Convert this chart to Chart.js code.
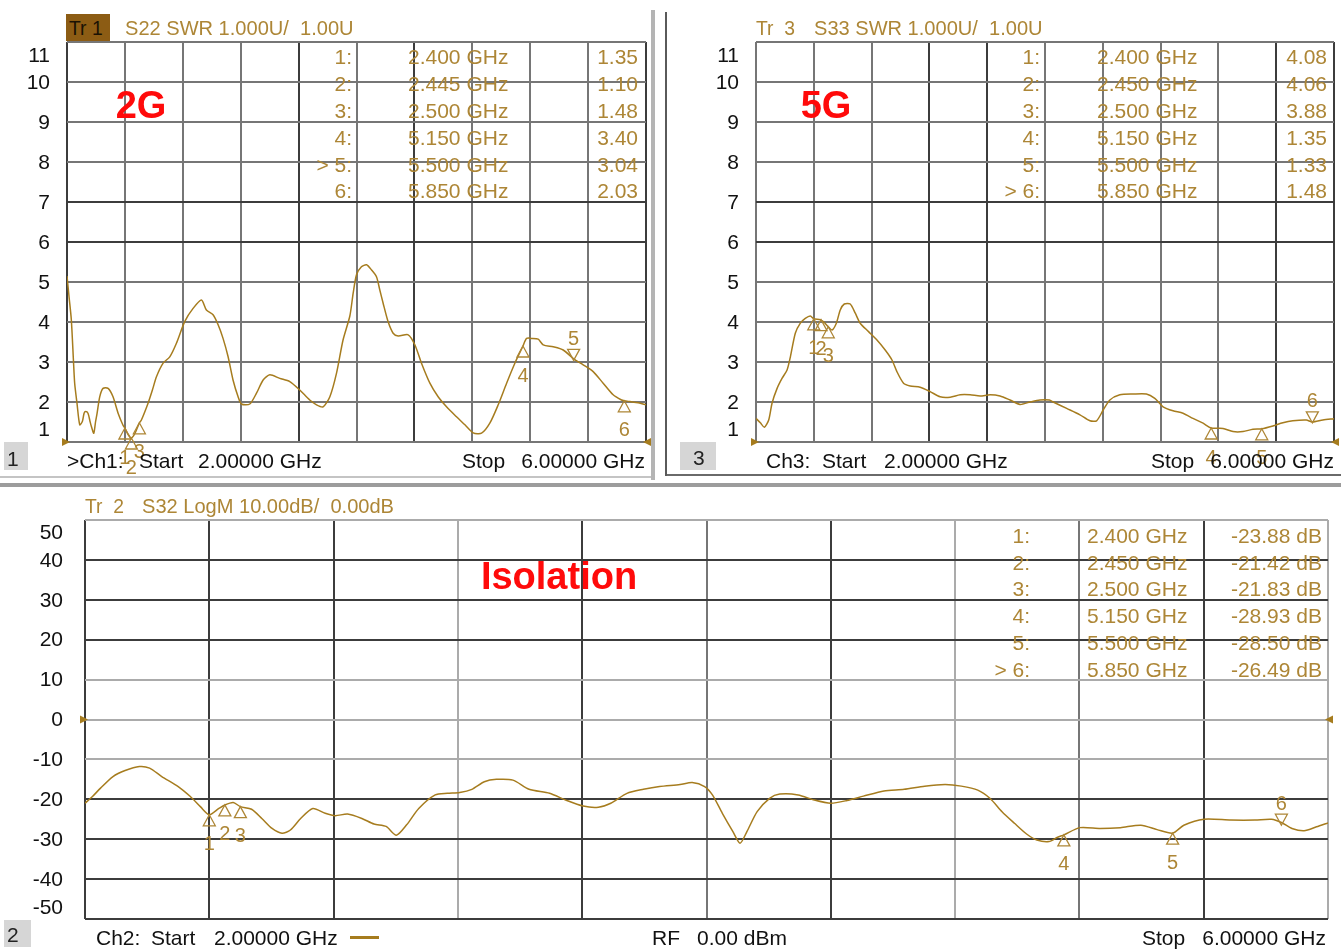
<!DOCTYPE html>
<html>
<head>
<meta charset="utf-8">
<title>VNA: S22 / S33 SWR and S32 isolation</title>
<script src="https://cdn.jsdelivr.net/npm/chart.js@4.4.1/dist/chart.umd.min.js"></script>
<style>
  html, body { margin: 0; padding: 0; background: #fff; }
  body { width: 1341px; height: 951px; position: relative; overflow: hidden;
         font-family: "Liberation Sans", Arial, sans-serif; }
  canvas { position: absolute; }
  .t { position: absolute; white-space: pre; }
  .bar { position: absolute; }
</style>
</head>
<body>
<canvas id="c1" width="660" height="480" style="left:0;top:0"></canvas>
<canvas id="c3" width="673" height="480" style="left:668px;top:0"></canvas>
<canvas id="c2" width="1341" height="461" style="left:0;top:490px"></canvas>

<script>
// ---- S22 SWR trace (GHz / SWR) ----
const s22Freq = [2.000, 2.015, 2.030, 2.045, 2.053, 2.069, 2.088, 2.106, 2.118, 2.129, 2.145, 2.160, 2.169, 2.185,
  2.197, 2.208, 2.226, 2.249, 2.284, 2.318, 2.353, 2.387, 2.400, 2.420, 2.445, 2.470, 2.500, 2.514, 2.560, 2.590,
  2.618, 2.664, 2.710, 2.756, 2.813, 2.871, 2.929, 2.963, 3.009, 3.044, 3.078, 3.113, 3.147, 3.182, 3.205, 3.263,
  3.309, 3.355, 3.401, 3.470, 3.539, 3.608, 3.677, 3.724, 3.769, 3.816, 3.862, 3.907, 3.954, 3.977, 4.000, 4.034,
  4.069, 4.104, 4.138, 4.161, 4.184, 4.218, 4.253, 4.288, 4.357, 4.403, 4.449, 4.507, 4.564, 4.622, 4.691, 4.749,
  4.806, 4.864, 4.921, 4.979, 5.037, 5.094, 5.150, 5.175, 5.209, 5.255, 5.290, 5.359, 5.428, 5.500, 5.566, 5.635,
  5.704, 5.773, 5.831, 5.850, 5.889, 5.946, 6.000];
const s22Swr = [5.15, 4.60, 4.05, 3.00, 2.47, 1.97, 1.43, 1.51, 1.72, 1.76, 1.72, 1.50, 1.38, 1.22,
  1.50, 1.72, 2.13, 2.34, 2.34, 2.13, 1.72, 1.42, 1.35, 1.20, 1.10, 1.22, 1.48, 1.55, 1.97, 2.30,
  2.63, 2.97, 3.13, 3.47, 4.01, 4.34, 4.55, 4.30, 4.18, 3.93, 3.59, 3.13, 2.55, 2.13, 1.95, 1.95,
  2.22, 2.55, 2.68, 2.59, 2.51, 2.30, 2.05, 1.93, 1.88, 2.13, 2.72, 3.55, 4.15, 4.72, 5.18, 5.38,
  5.43, 5.30, 5.13, 4.80, 4.47, 4.01, 3.72, 3.65, 3.68, 3.43, 2.97, 2.47, 2.13, 1.88, 1.63, 1.43,
  1.23, 1.22, 1.47, 1.93, 2.47, 2.97, 3.40, 3.59, 3.59, 3.57, 3.43, 3.38, 3.30, 3.08, 2.93, 2.76,
  2.47, 2.18, 2.05, 2.03, 2.01, 1.98, 1.93];
const s22MarkFreq = [2.400, 2.445, 2.500, 5.150, 5.500, 5.850];
const s22MarkSwr  = [1.35, 1.10, 1.48, 3.40, 3.04, 2.03];

// ---- S33 SWR trace ----
const s33Freq = [2.000, 2.030, 2.058, 2.088, 2.111, 2.146, 2.180, 2.215, 2.238, 2.272, 2.307, 2.341, 2.376, 2.400,
  2.445, 2.470, 2.500, 2.526, 2.556, 2.583, 2.611, 2.652, 2.687, 2.721, 2.779, 2.837, 2.894, 2.941, 2.975, 3.021,
  3.067, 3.136, 3.205, 3.274, 3.344, 3.413, 3.482, 3.551, 3.620, 3.689, 3.758, 3.827, 3.896, 3.965, 4.030, 4.057,
  4.150, 4.242, 4.311, 4.357, 4.403, 4.449, 4.518, 4.610, 4.702, 4.760, 4.817, 4.886, 4.955, 5.024, 5.094, 5.150,
  5.232, 5.301, 5.370, 5.439, 5.500, 5.577, 5.646, 5.715, 5.808, 5.850, 5.923, 6.000];
const s33Swr = [1.59, 1.48, 1.37, 1.55, 1.97, 2.34, 2.59, 2.80, 3.13, 3.72, 3.97, 4.09, 4.15, 4.08,
  4.06, 4.00, 3.88, 3.80, 3.97, 4.30, 4.45, 4.45, 4.22, 3.97, 3.76, 3.55, 3.30, 3.05, 2.76, 2.47,
  2.40, 2.37, 2.26, 2.13, 2.12, 2.18, 2.18, 2.15, 2.18, 2.15, 2.05, 1.94, 2.00, 2.05, 2.05, 2.00,
  1.84, 1.68, 1.53, 1.53, 1.80, 2.05, 2.18, 2.20, 2.20, 2.09, 1.88, 1.78, 1.72, 1.59, 1.47, 1.35,
  1.34, 1.26, 1.26, 1.32, 1.33, 1.40, 1.48, 1.53, 1.55, 1.50, 1.55, 1.58];
const s33MarkFreq = [2.400, 2.450, 2.500, 5.150, 5.500, 5.850];
const s33MarkSwr  = [4.08, 4.06, 3.88, 1.35, 1.33, 1.48];

// ---- S32 isolation trace (GHz / dB) ----
const s32Freq = [2.000, 2.024, 2.050, 2.090, 2.129, 2.175, 2.208, 2.247, 2.300, 2.339, 2.372, 2.400, 2.431, 2.450,
  2.477, 2.500, 2.536, 2.569, 2.602, 2.634, 2.661, 2.694, 2.733, 2.773, 2.805, 2.845, 2.891, 2.930, 2.969, 3.002,
  3.035, 3.074, 3.127, 3.166, 3.206, 3.245, 3.285, 3.324, 3.377, 3.429, 3.495, 3.547, 3.603, 3.652, 3.692, 3.744,
  3.797, 3.849, 3.915, 3.954, 3.994, 4.019, 4.051, 4.085, 4.108, 4.130, 4.163, 4.203, 4.236, 4.295, 4.347, 4.400,
  4.452, 4.505, 4.571, 4.636, 4.702, 4.768, 4.820, 4.873, 4.912, 4.951, 4.991, 5.030, 5.063, 5.102, 5.130, 5.150,
  5.201, 5.267, 5.332, 5.398, 5.450, 5.500, 5.536, 5.601, 5.687, 5.765, 5.818, 5.850, 5.884, 5.923, 5.963, 6.000];
const s32Db = [-21.0, -19.3, -17.2, -14.3, -12.8, -11.8, -12.2, -14.3, -16.8, -19.3, -21.9, -23.88, -22.3, -21.42,
  -20.8, -21.83, -22.5, -24.8, -27.3, -28.5, -27.7, -24.8, -22.3, -23.5, -24.1, -23.7, -24.8, -26.2, -26.8, -29.0,
  -26.4, -22.3, -18.9, -18.5, -18.3, -17.5, -15.6, -15.0, -15.2, -17.5, -18.5, -20.2, -21.7, -22.0, -21.0, -18.5,
  -17.5, -16.8, -16.3, -15.8, -16.8, -18.9, -23.5, -28.1, -31.0, -28.1, -23.1, -19.75, -18.7, -18.9, -20.2, -21.0,
  -20.3, -19.2, -17.9, -17.5, -16.7, -16.3, -16.7, -17.7, -19.75, -23.1, -26.0, -28.7, -30.2, -30.6, -29.5, -28.93,
  -27.1, -27.3, -27.1, -26.5, -27.6, -28.50, -26.5, -25.0, -25.2, -25.2, -25.0, -25.8, -27.3, -27.9, -26.9, -25.9];
const s32MarkFreq = [2.400, 2.450, 2.500, 5.150, 5.500, 5.850];
const s32MarkDb   = [-23.88, -21.42, -21.83, -28.93, -28.50, -26.49];

// ---- axis tick labels ----
const swrTicks = [1, 2, 3, 4, 5, 6, 7, 8, 9, 10, 11];
const dbTicks  = [-50, -40, -30, -20, -10, 0, 10, 20, 30, 40, 50];

const PAGE_W = 1341;
const GOLD = '#ad8636';
const TRACE = '#a67c1e';
const GRID = { d: '#3c3c3c', m: '#767676', l: '#ababab' };
const FONT = '"Liberation Sans", Arial, sans-serif';

// per-line grid shade for each panel (index order: left->right, bottom->top)
const shadeX1 = 'dmmmdmdmmmd', shadeY1 = 'mmmmmddmmmm';
const shadeX3 = 'mmmddmmmmdd', shadeY3 = 'mmmmmddmmmm';
const shadeX2 = 'dddldmdlmdl', shadeY2 = 'ddddllldddl';

function overlay(o) {
  return {
    id: 'overlay',
    afterDraw(chart) {
      const { ctx, chartArea: a } = chart;
      const xs = chart.scales.x, ys = chart.scales.y;
      ctx.save();
      // y tick labels
      ctx.font = '21px ' + FONT;
      ctx.fillStyle = '#111';
      ctx.textAlign = 'right';
      ctx.textBaseline = 'middle';
      o.ticks.forEach((v, i) => {
        let py = ys.getPixelForValue(v);
        if (i === 0) py -= o.edgeShift;
        if (i === o.ticks.length - 1) py += o.edgeShift;
        ctx.fillText(String(v), a.left - o.labelGap, py + 1);
      });
      // reference-level pointers on both edges
      const pr = ys.getPixelForValue(o.ref);
      ctx.fillStyle = TRACE;
      ctx.beginPath();
      ctx.moveTo(a.left + 3, pr); ctx.lineTo(a.left - 5, pr - 4); ctx.lineTo(a.left - 5, pr + 4);
      ctx.closePath(); ctx.fill();
      ctx.beginPath();
      ctx.moveTo(a.right - 3, pr); ctx.lineTo(a.right + 5, pr - 4); ctx.lineTo(a.right + 5, pr + 4);
      ctx.closePath(); ctx.fill();
      // markers
      ctx.strokeStyle = GOLD;
      ctx.lineWidth = 1.3;
      ctx.font = '20px ' + FONT;
      ctx.textAlign = 'center';
      o.mFreq.forEach((f, i) => {
        const px = xs.getPixelForValue(f), py = ys.getPixelForValue(o.mVal[i]);
        const up = i === o.active;       // active marker sits above the trace
        const dir = up ? -1 : 1;
        ctx.beginPath();
        ctx.moveTo(px, py);
        ctx.lineTo(px - 6, py + dir * 11);
        ctx.lineTo(px + 6, py + dir * 11);
        ctx.closePath();
        ctx.stroke();
        ctx.fillStyle = GOLD;
        ctx.fillText(String(i + 1), px, up ? py - 21 : py + 30);
      });
      ctx.restore();
    }
  };
}

function panel(id, o) {
  const shade = (s, i) => GRID[s[i]] || GRID.m;
  return new Chart(document.getElementById(id), {
    type: 'line',
    data: {
      datasets: [{
        data: o.freq.map((f, i) => ({ x: f, y: o.vals[i] })),
        borderColor: TRACE,
        borderWidth: 1.5,
        pointRadius: 0,
        tension: 0.25,
        fill: false
      }]
    },
    options: {
      responsive: false,
      animation: false,
      events: [],
      layout: { padding: o.pad },
      plugins: { legend: { display: false }, tooltip: { enabled: false } },
      scales: {
        x: {
          type: 'linear', min: 2, max: 6,
          ticks: { display: false, stepSize: 0.4 },
          grid: { drawTicks: false, lineWidth: 2, color: c => shade(o.shadeX, c.index) },
          border: { display: false }
        },
        y: {
          type: 'linear', min: o.ticks[0], max: o.ticks[o.ticks.length - 1],
          ticks: { display: false, stepSize: o.ticks[1] - o.ticks[0] },
          grid: { drawTicks: false, lineWidth: 2, color: c => shade(o.shadeY, c.index) },
          border: { display: false }
        }
      }
    },
    plugins: [overlay(o)]
  });
}

panel('c1', { freq: s22Freq, vals: s22Swr, ticks: swrTicks, ref: 1,
  mFreq: s22MarkFreq, mVal: s22MarkSwr, active: 4,
  pad: { left: 67, top: 42, right: 14, bottom: 38 }, labelGap: 17, edgeShift: 13,
  shadeX: shadeX1, shadeY: shadeY1 });
panel('c3', { freq: s33Freq, vals: s33Swr, ticks: swrTicks, ref: 1,
  mFreq: s33MarkFreq, mVal: s33MarkSwr, active: 5,
  pad: { left: 88, top: 42, right: 7, bottom: 38 }, labelGap: 17, edgeShift: 13,
  shadeX: shadeX3, shadeY: shadeY3 });
panel('c2', { freq: s32Freq, vals: s32Db, ticks: dbTicks, ref: 0,
  mFreq: s32MarkFreq, mVal: s32MarkDb, active: 5,
  pad: { left: 85, top: 30, right: 13, bottom: 32 }, labelGap: 22, edgeShift: 12,
  shadeX: shadeX2, shadeY: shadeY2 });

// ---- text ----
function put(txt, x, y, opt) {
  const o = opt || {};
  const size = o.size || 21;
  const d = document.createElement('div');
  d.className = 't';
  d.textContent = txt;
  d.style.fontSize = size + 'px';
  d.style.lineHeight = size + 'px';
  d.style.top = (y - size * 0.49) + 'px';
  d.style.color = o.color || GOLD;
  if (o.bold) d.style.fontWeight = 'bold';
  if (o.align === 'right') d.style.right = (PAGE_W - x) + 'px';
  else if (o.align === 'center') { d.style.left = x + 'px'; d.style.transform = 'translateX(-50%)'; }
  else d.style.left = x + 'px';
  if (o.sx) {
    d.style.transform = (d.style.transform || '') + ' scaleX(' + o.sx + ')';
    d.style.transformOrigin = o.align === 'right' ? 'right center' : 'left center';
  }
  document.body.appendChild(d);
  return d;
}
function box(x, y, w, h, bg) {
  const b = document.createElement('div');
  b.className = 'bar';
  Object.assign(b.style, { left: x + 'px', top: y + 'px', width: w + 'px', height: h + 'px', background: bg });
  document.body.appendChild(b);
}

// window frame lines
box(651, 10, 4, 470, '#b4b4b4');
box(665, 12, 2, 464, '#5a5a5a');
box(0, 476, 651, 2, '#c4c4c4');
box(667, 474, 674, 2, '#6a6a6a');
box(0, 483, 1341, 4, '#9c9c9c');

// headers
box(66, 14, 44, 27, '#8c5c14');
put('Tr 1', 69, 27.5, { color: '#1a1204', sx: 0.92 });
put('S22 SWR 1.000U/  1.00U', 125, 27.5, { sx: 0.955 });
put('Tr  3', 756, 27.5, { sx: 0.92 });
put('S33 SWR 1.000U/  1.00U', 814, 27.5, { sx: 0.955 });
put('Tr  2', 85, 505, { sx: 0.92 });
put('S32 LogM 10.00dB/  0.00dB', 142, 505, { sx: 0.955 });

// marker tables
function table(freqs, vals, active, unit, numRight, freqLeft, valRight, y0, dy) {
  freqs.forEach((f, i) => {
    const y = y0 + i * dy;
    put((i === active ? '> ' : '') + (i + 1) + ':', numRight, y, { align: 'right' });
    put(f.toFixed(3) + ' GHz', freqLeft, y);
    put(vals[i].toFixed(2) + unit, valRight, y, { align: 'right' });
  });
}
table(s22MarkFreq, s22MarkSwr, 4, '', 352, 408, 638, 56.7, 26.8);
table(s33MarkFreq, s33MarkSwr, 5, '', 1040, 1097, 1327, 56.7, 26.8);
table(s32MarkFreq, s32MarkDb, 5, ' dB', 1030, 1087, 1322, 535, 26.8);

// band labels
put('2G', 141, 105, { color: '#ff0a0a', bold: true, size: 38, align: 'center' });
put('5G', 826, 105, { color: '#ff0a0a', bold: true, size: 38, align: 'center' });
put('Isolation', 559, 576, { color: '#ff0a0a', bold: true, size: 38, align: 'center' });

// channel footers
box(4, 442, 24, 28, '#d6d6d6');
put('1', 7, 458, { color: '#222' });
put('>Ch1:', 67, 460, { color: '#111' });
put('Start', 139, 460, { color: '#111' });
put('2.00000 GHz', 198, 460, { color: '#111' });
put('Stop', 462, 460, { color: '#111' });
put('6.00000 GHz', 645, 460, { color: '#111', align: 'right' });

box(680, 442, 36, 28, '#d6d6d6');
put('3', 693, 457, { color: '#222' });
put('Ch3:', 766, 460, { color: '#111' });
put('Start', 822, 460, { color: '#111' });
put('2.00000 GHz', 884, 460, { color: '#111' });
put('Stop', 1151, 460, { color: '#111' });
put('6.00000 GHz', 1334, 460, { color: '#111', align: 'right' });

box(4, 920, 27, 27, '#d6d6d6');
put('2', 7, 934, { color: '#222' });
put('Ch2:', 96, 937, { color: '#111' });
put('Start', 151, 937, { color: '#111' });
put('2.00000 GHz', 214, 937, { color: '#111' });
box(350, 936, 29, 3, TRACE);
put('RF', 652, 937, { color: '#111' });
put('0.00 dBm', 697, 937, { color: '#111' });
put('Stop', 1142, 937, { color: '#111' });
put('6.00000 GHz', 1326, 937, { color: '#111', align: 'right' });
</script>
</body>
</html>
